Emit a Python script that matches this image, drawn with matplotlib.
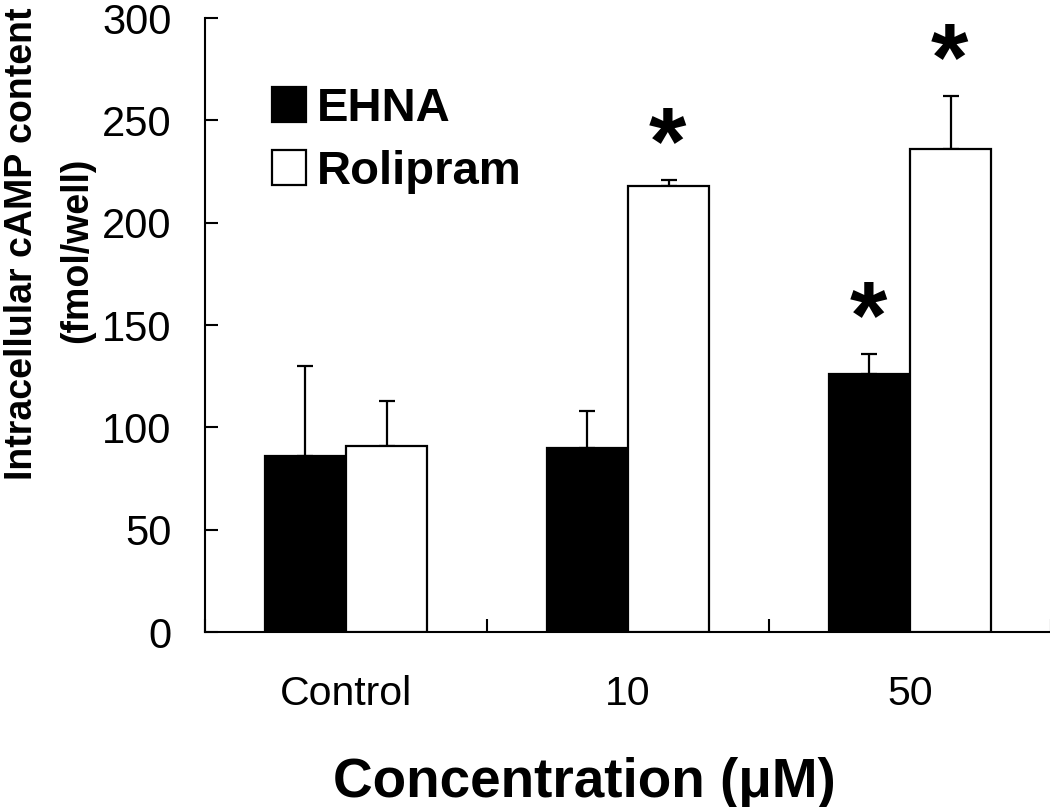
import matplotlib

matplotlib.use("Agg")
import matplotlib.pyplot as plt
import numpy as np


CATEGORIES = ["Control", "10", "50"]
SERIES = ["EHNA", "Rolipram"]
EHNA_MEAN = [86, 90, 126]
EHNA_ERR = [44, 18, 10]
ROLIPRAM_MEAN = [91, 218, 236]
ROLIPRAM_ERR = [22, 3, 26]
EHNA_SIG = [False, False, True]
ROLIPRAM_SIG = [False, True, True]

FONT = "Liberation Sans"


def dibujar():
    fig = plt.figure(figsize=(10.5, 8.07), dpi=100)
    ax = fig.add_axes([205 / 1050, 1 - 632 / 807, 846 / 1050, 614 / 807])

    x = np.arange(len(CATEGORIES))
    ancho = 0.288

    series = [
        (EHNA_MEAN, EHNA_ERR, EHNA_SIG, "black", -ancho / 2),
        (ROLIPRAM_MEAN, ROLIPRAM_ERR, ROLIPRAM_SIG, "white", ancho / 2),
    ]

    for nombre, (medias, errores, sig, color, desplaz) in zip(SERIES, series):
        pos = x + desplaz
        ax.bar(pos, medias, width=ancho, color=color, edgecolor="black",
               linewidth=1.6, label=nombre, zorder=3)
        ax.errorbar(pos, medias, yerr=[np.zeros(len(errores)), errores],
                    fmt="none", ecolor="black", elinewidth=1.6, capsize=6,
                    capthick=1.6, zorder=2)
        # asterisco de significancia encima de la barra de error
        for p, m, e, s in zip(pos, medias, errores, sig):
            if s:
                ax.annotate("*", xy=(p, m + e), xytext=(-1, 4.5),
                            textcoords="offset points", ha="center",
                            va="baseline", fontsize=69, fontweight="bold",
                            family=FONT)

    ax.set_xlim(-0.5, 2.5)
    ax.set_ylim(0, 300)
    ax.set_yticks(np.arange(0, 301, 50))
    ax.set_xticks([-0.5, 0.5, 1.5, 2.5])
    ax.set_xticklabels([])
    ax.set_xticks(x, minor=True)
    ax.set_xticklabels(CATEGORIES, minor=True)

    ax.tick_params(axis="y", direction="in", length=9, width=1.5,
                   pad=24, labelsize=30)
    ax.tick_params(axis="x", which="major", direction="in", length=9.5,
                   width=1.5)
    ax.tick_params(axis="x", which="minor", length=0, pad=31, labelsize=29.5)
    for etiqueta in ax.get_xticklabels(minor=True) + ax.get_yticklabels():
        etiqueta.set_family(FONT)

    for lado in ["top", "right"]:
        ax.spines[lado].set_visible(False)
    for lado in ["left", "bottom"]:
        ax.spines[lado].set_linewidth(1.5)

    leyenda = ax.legend(loc="upper left", bbox_to_anchor=(67 / 846, 1 - 69 / 614),
                        frameon=False, handlelength=0.72, handleheight=0.75,
                        handletextpad=0.22, labelspacing=0.4, borderpad=0,
                        borderaxespad=0,
                        prop={"family": FONT, "weight": "bold", "size": 34})
    for parche in leyenda.get_patches():
        parche.set_linewidth(1.6)

    fig.text(584 / 1050, 1 - 797 / 807, "Concentration (μM)", ha="center",
             va="baseline", fontsize=39.5, fontweight="bold", family=FONT)
    fig.text(32 / 1050, 1 - 244 / 807, "Intracellular cAMP content",
             rotation=90, rotation_mode="anchor", ha="center", va="baseline",
             fontsize=27, fontweight="bold", family=FONT)
    fig.text(87 / 1050, 1 - 250 / 807, "(fmol/well)",
             rotation=90, rotation_mode="anchor", ha="center", va="baseline",
             fontsize=27, fontweight="bold", family=FONT)

    fig.savefig("out.png", dpi=100)
    plt.close(fig)


if __name__ == "__main__":
    dibujar()
